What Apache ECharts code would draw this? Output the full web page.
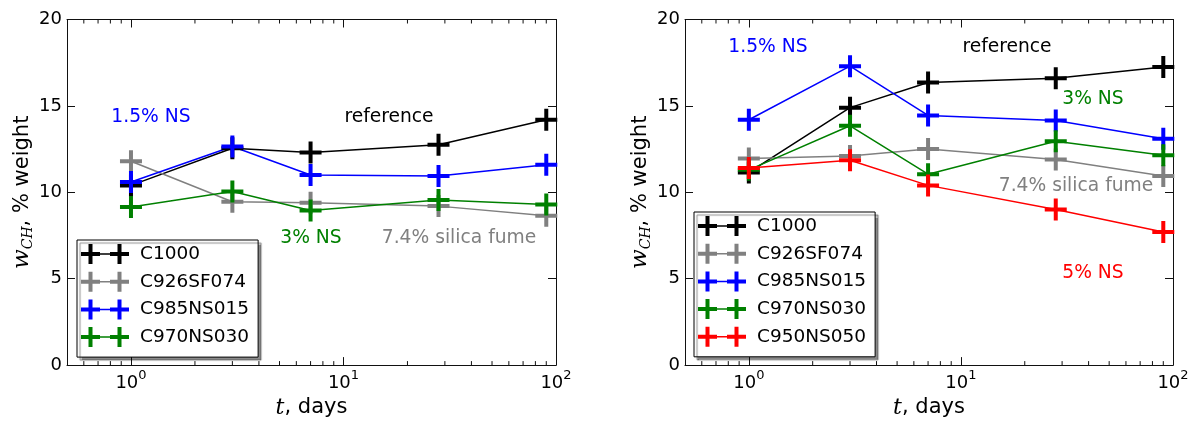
<!DOCTYPE html>
<html><head><meta charset="utf-8">
<script src="https://cdn.jsdelivr.net/npm/echarts@6/dist/echarts.min.js"></script>
<style>html,body{margin:0;padding:0;background:#fff}#c{width:1197px;height:424px}</style>
</head><body><div id="c"></div>
<script>
// ---------- data ----------
const days = [1, 3, 7, 28, 90];
const leftNames = ['C1000', 'C926SF074', 'C985NS015', 'C970NS030'];
const rightNames = ['C1000', 'C926SF074', 'C985NS015', 'C970NS030', 'C950NS050'];

const leftC1000     = [10.4, 12.55, 12.3, 12.75, 14.2];
const leftC926SF074 = [11.8, 9.45, 9.4, 9.2, 8.65];
const leftC985NS015 = [10.6, 12.65, 11.0, 10.95, 11.6];
const leftC970NS030 = [9.15, 10.05, 8.95, 9.55, 9.3];

const rightC1000     = [11.15, 14.9, 16.35, 16.6, 17.25];
const rightC926SF074 = [11.95, 12.1, 12.5, 11.9, 10.95];
const rightC985NS015 = [14.2, 17.3, 14.45, 14.15, 13.1];
const rightC970NS030 = [11.3, 13.85, 11.05, 12.95, 12.15];
const rightC950NS050 = [11.4, 11.85, 10.4, 9.0, 7.7];

const minorTickValues = [0.6, 0.7, 0.8, 0.9, 2, 3, 4, 5, 6, 7, 8, 9, 20, 30, 40, 50, 60, 70, 80, 90];
const leftNotes = ['1.5% NS', 'reference', '3% NS', '7.4% silica fume'];
const rightNotes = ['1.5% NS', 'reference', '3% NS', '7.4% silica fume', '5% NS'];
const xLabel = 't';
const xLabelRest = ', days';
const yLabel = 'w';
const yLabelSub = 'CH';
const yLabelRest = ', % weight';

// ---------- styling ----------
const colorOf = {C1000: '#000000', C926SF074: '#808080', C985NS015: '#0000ff', C970NS030: '#008000', C950NS050: '#ff0000'};
const FONT = 'DejaVu Sans';
const plusSymbol = 'path://M0,9H22V13H0Z M9,0H13V22H9Z';
const legendIcon = 'path://M0,8H19V12H0Z M7.5,0H11.5V20H7.5Z M19,9.25H29V10.75H19Z M29,8H48V12H29Z M36.5,0H40.5V20H36.5Z';

const grids = [
  {left: 67, top: 19.5, width: 489, height: 346.5},
  {left: 685, top: 19.5, width: 488, height: 346.5}
];

function xAxes(gi) {
  const common = {gridIndex: gi, type: 'log', logBase: 10, min: 0.5, max: 100,
    splitLine: {show: false},
    axisLine: {show: true, onZero: false, lineStyle: {color: '#111', width: 1}},
    axisTick: {show: true, inside: true, length: 8, lineStyle: {color: '#111'}}};
  return [
    Object.assign({}, common, {position: 'bottom',
      name: '{it|' + xLabel + '}{n|' + xLabelRest + '}', nameLocation: 'middle', nameGap: 27,
      nameTextStyle: {color: '#000', fontSize: 21, fontFamily: FONT,
        rich: {it: {fontFamily: 'DejaVu Serif', fontStyle: 'italic', fontSize: 22, color: '#000', lineHeight: 26},
               n: {fontFamily: FONT, fontSize: 21, color: '#000', lineHeight: 26}}},
      axisLabel: {show: true, margin: 4, color: '#000', fontFamily: FONT, fontSize: 18,
        formatter: function (v) {
          const e = Math.round(Math.log10(v));
          if (Math.abs(v - Math.pow(10, e)) > 1e-9) return '';
          return '{b|10}{sup|' + e + '}';
        },
        rich: {b: {fontSize: 18, fontFamily: FONT, color: '#000', padding: [5, 0, 0, 0], verticalAlign: 'bottom'},
               sup: {fontSize: 13, fontFamily: FONT, color: '#000', verticalAlign: 'top'}}}}),
    Object.assign({}, common, {position: 'top', axisLabel: {show: false}})
  ];
}
function yAxes(gi, gap) {
  const common = {gridIndex: gi, type: 'value', min: 0, max: 20, interval: 5,
    splitLine: {show: false},
    axisLine: {show: true, onZero: false, lineStyle: {color: '#111', width: 1}},
    axisTick: {show: true, inside: true, length: 8, lineStyle: {color: '#111'}}};
  return [
    Object.assign({}, common, {position: 'left',
      name: '{it|' + yLabel + '}{sub|' + yLabelSub + '}{n|' + yLabelRest + '}',
      nameLocation: 'middle', nameGap: gap, nameRotate: 90,
      nameTextStyle: {color: '#000', fontSize: 21, fontFamily: FONT,
        rich: {it: {fontFamily: 'DejaVu Serif', fontStyle: 'italic', fontSize: 23, color: '#000', lineHeight: 26, verticalAlign: 'middle'},
               sub: {fontFamily: 'DejaVu Serif', fontStyle: 'italic', fontSize: 14, color: '#000', lineHeight: 15, verticalAlign: 'bottom'},
               n: {fontFamily: FONT, fontSize: 21, color: '#000', lineHeight: 26, verticalAlign: 'middle'}}},
      axisLabel: {show: true, margin: 5, color: '#000', fontFamily: FONT, fontSize: 18}}),
    Object.assign({}, common, {position: 'right', axisLabel: {show: false}})
  ];
}

function lineSeries(name, values, xi, yi) {
  return {
    type: 'line', name: name, xAxisIndex: xi, yAxisIndex: yi,
    data: days.map((d, i) => [d, values[i]]),
    symbol: plusSymbol, symbolSize: 22, showSymbol: true,
    itemStyle: {color: colorOf[name]},
    lineStyle: {color: colorOf[name], width: 1.5},
    emphasis: {disabled: true}, animation: false
  };
}
function minorSeries(xi, yi) {
  return {
    type: 'custom', xAxisIndex: xi, yAxisIndex: yi, silent: true, z: 1, animation: false,
    data: minorTickValues.map(v => [v, 0]),
    renderItem: function (params, api) {
      const x = api.value(0);
      const b = api.coord([x, 0]);
      const t = api.coord([x, 20]);
      return {type: 'group', children: [
        {type: 'line', shape: {x1: b[0], y1: b[1], x2: b[0], y2: b[1] - 4}, style: {stroke: '#111', lineWidth: 1}},
        {type: 'line', shape: {x1: t[0], y1: t[1], x2: t[0], y2: t[1] + 4}, style: {stroke: '#111', lineWidth: 1}}
      ]};
    }
  };
}

const leftData = {C1000: leftC1000, C926SF074: leftC926SF074, C985NS015: leftC985NS015, C970NS030: leftC970NS030};
const rightData = {C1000: rightC1000, C926SF074: rightC926SF074, C985NS015: rightC985NS015, C970NS030: rightC970NS030, C950NS050: rightC950NS050};

const series = [minorSeries(0, 0), minorSeries(2, 2)];
leftNames.forEach(n => series.push(lineSeries(n, leftData[n], 0, 0)));
rightNames.forEach(n => series.push(lineSeries(n, rightData[n], 2, 2)));

function legend(names, left, top) {
  return {
    show: true, orient: 'vertical', left: left, top: top,
    data: names.map(n => ({name: n, icon: legendIcon})),
    itemWidth: 48, itemHeight: 20, itemGap: 7.7,
    padding: [4, 9, 10, 4],
    backgroundColor: '#fff', borderColor: '#000', borderWidth: 1,
    shadowColor: 'rgba(0,0,0,0.45)', shadowBlur: 1, shadowOffsetX: 3, shadowOffsetY: 3,
    textStyle: {color: '#000', fontSize: 18.5, fontFamily: FONT, padding: [0, 0, 0, 6]},
    selectedMode: false
  };
}

const notePos = {
  left: [[151, 117, '#0000ff'], [389, 117, '#000000'], [311, 238, '#008000'], [459, 238, '#808080']],
  right: [[768, 47, '#0000ff'], [1007, 47, '#000000'], [1093, 99, '#008000'], [1076, 186, '#808080'], [1093, 273, '#ff0000']]
};
const graphic = [];
leftNotes.forEach((t, i) => {
  const p = notePos.left[i];
  graphic.push({type: 'text', x: p[0], y: p[1], z: 100, style: {text: t, fill: p[2], fontSize: 18.7, fontFamily: FONT, align: 'center', verticalAlign: 'middle'}});
});
rightNotes.forEach((t, i) => {
  const p = notePos.right[i];
  graphic.push({type: 'text', x: p[0], y: p[1], z: 100, style: {text: t, fill: p[2], fontSize: 18.7, fontFamily: FONT, align: 'center', verticalAlign: 'middle'}});
});

const option = {
  backgroundColor: '#fff',
  animation: false,
  textStyle: {fontFamily: FONT},
  grid: grids,
  xAxis: [].concat(xAxes(0), xAxes(1)),
  yAxis: [].concat(yAxes(0, 31), yAxes(1, 30)),
  legend: [legend(leftNames, 77, 240), legend(rightNames, 694, 212)],
  series: series,
  graphic: graphic
};
const chart = echarts.init(document.getElementById('c'), null, {renderer: 'canvas'});
chart.setOption(option);
</script>
</body></html>
